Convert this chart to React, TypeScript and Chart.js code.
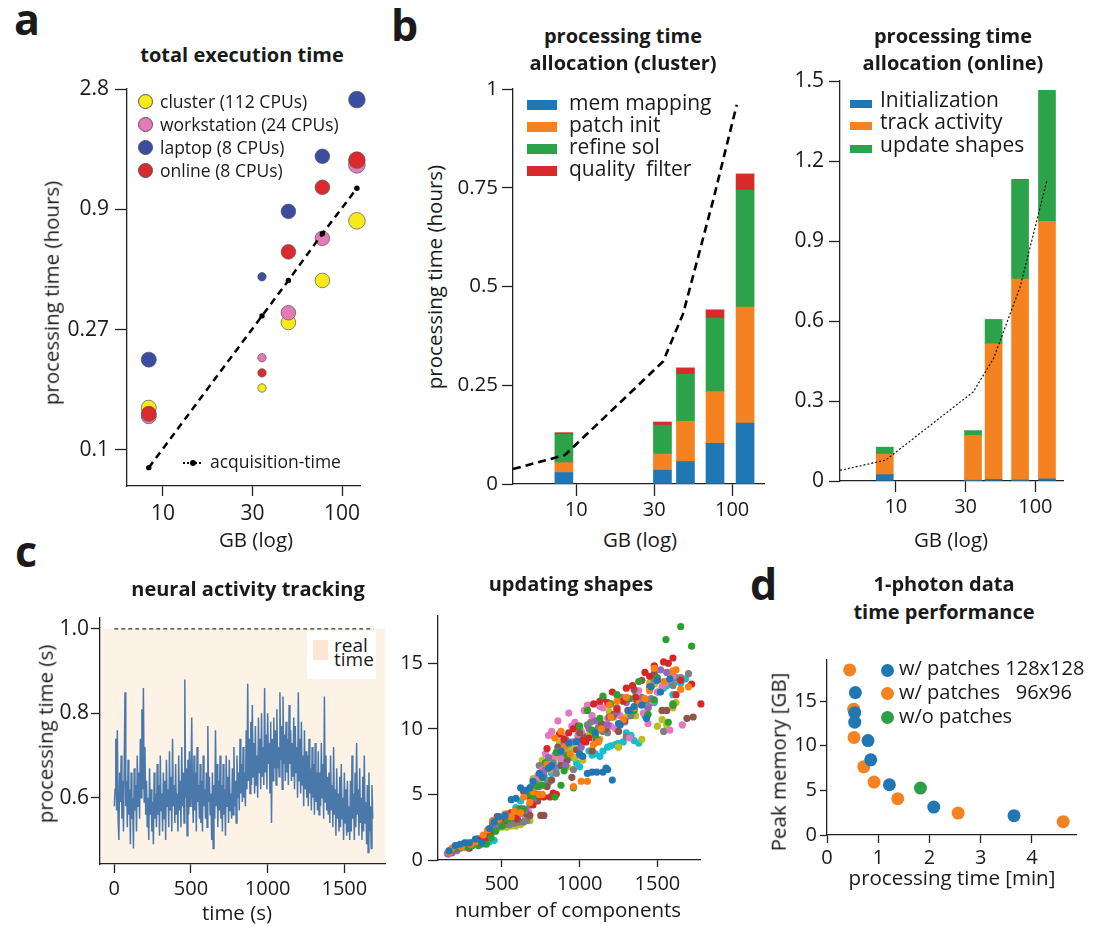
import React, { useEffect, useRef } from 'react';
import { Chart, registerables } from 'chart.js';

Chart.register(...registerables);

const FONT = '"Open Sans", "DejaVu Sans", sans-serif';
Chart.defaults.font.family = FONT;

// ---------------- Panel a: total execution time ----------------
const aGB = [8.4, 33.7, 46.6, 70.7, 108];
const aCluster = [0.147, 0.176, 0.32, 0.47, 0.81];
const aWorkstation = [0.136, 0.232, 0.35, 0.69, 1.35];
const aLaptop = [0.228, 0.486, 0.883, 1.46, 2.45];
const aOnline = [0.139, 0.202, 0.61, 1.1, 1.41];
const aAcquisition = [0.085, 0.34, 0.47, 0.72, 1.09];
const aXTickValues = [10, 30, 90];
const aXTickLabels = ['10', '30', '100'];
const aYTickValues = [0.1, 0.3, 0.9, 2.7];
const aYTickLabels = ['0.1', '0.27', '0.9', '2.8'];
const aLegend = ['cluster (112 CPUs)', 'workstation (24 CPUs)', 'laptop (8 CPUs)', 'online (8 CPUs)'];

// ---------------- Panel b: cluster allocation ----------------
const bGB = [8.4, 33.7, 46.6, 70.7, 108];
const bMemMapping = [0.029, 0.035, 0.057, 0.103, 0.154];
const bPatchInit = [0.025, 0.041, 0.102, 0.131, 0.294];
const bRefineSol = [0.072, 0.073, 0.119, 0.186, 0.296];
const bQualityFilter = [0.004, 0.008, 0.016, 0.021, 0.041];
const bClusterLineGB = [4.1, 8.5, 34, 45, 69, 96];
const bClusterLine = [0.038, 0.073, 0.31, 0.43, 0.72, 0.96];
const bClusterYTicks = [0, 0.25, 0.5, 0.75, 1];
const bClusterYLabels = ['0', '0.25', '0.5', '0.75', '1'];
const bLegend = ['mem mapping', 'patch init', 'refine sol', 'quality  filter'];

// ---------------- Panel b: online allocation ----------------
const oInitialization = [0.024, 0.003, 0.006, 0.004, 0.008];
const oTrackActivity = [0.077, 0.168, 0.508, 0.753, 0.966];
const oUpdateShapes = [0.026, 0.018, 0.092, 0.374, 0.491];
const oLineGB = [4.15, 8.5, 33.8, 46.6, 70.7, 108];
const oLine = [0.04, 0.078, 0.334, 0.46, 0.727, 1.128];
const oYTicks = [0, 0.3, 0.6, 0.9, 1.2, 1.5];
const oYLabels = ['0', '0.3', '0.6', '0.9', '1.2', '1.5'];
const oLegend = ['Initialization', 'track activity', 'update shapes'];
const gbXTicks = [10, 30, 90];
const gbXLabels = ['10', '30', '100'];

// ---------------- Panel c: neural activity tracking (one value every 5 s) ----------------
const neuralStepSeconds = 5;
const neuralTime = [
  0.58, 0.62, 0.74, 0.57, 0.76, 0.55, 0.50, 0.66, 0.59, 0.70, 0.55, 0.64, 0.52, 0.68,
  0.85, 0.58, 0.64, 0.53, 0.69, 0.56, 0.62, 0.49, 0.66, 0.55, 0.60, 0.48, 0.67, 0.57,
  0.63, 0.52, 0.70, 0.58, 0.66, 0.55, 0.74, 0.60, 0.81, 0.62, 0.86, 0.59, 0.72, 0.56,
  0.64, 0.53, 0.60, 0.50, 0.67, 0.56, 0.62, 0.52, 0.59, 0.49, 0.66, 0.55, 0.61, 0.53,
  0.68, 0.56, 0.63, 0.51, 0.70, 0.57, 0.61, 0.52, 0.66, 0.55, 0.64, 0.50, 0.69, 0.58,
  0.62, 0.53, 0.71, 0.57, 0.65, 0.52, 0.74, 0.58, 0.63, 0.54, 0.68, 0.56, 0.61, 0.52,
  0.70, 0.57, 0.64, 0.53, 0.72, 0.58, 0.66, 0.54, 0.88, 0.60, 0.67, 0.51, 0.69, 0.56,
  0.71, 0.58, 0.64, 0.79, 0.60, 0.54, 0.70, 0.57, 0.66, 0.52, 0.72, 0.59, 0.63, 0.55,
  0.68, 0.54, 0.64, 0.52, 0.70, 0.58, 0.62, 0.55, 0.66, 0.53, 0.77, 0.59, 0.65, 0.56,
  0.61, 0.50, 0.66, 0.48, 0.63, 0.55, 0.76, 0.58, 0.68, 0.53, 0.64, 0.57, 0.70, 0.55,
  0.63, 0.52, 0.68, 0.56, 0.62, 0.51, 0.70, 0.58, 0.65, 0.54, 0.69, 0.57, 0.61, 0.55,
  0.67, 0.56, 0.72, 0.58, 0.64, 0.54, 0.70, 0.60, 0.66, 0.57, 0.74, 0.61, 0.68, 0.59,
  0.72, 0.60, 0.66, 0.58, 0.76, 0.62, 0.87, 0.64, 0.74, 0.61, 0.78, 0.63, 0.82, 0.65,
  0.73, 0.61, 0.77, 0.63, 0.70, 0.60, 0.79, 0.66, 0.74, 0.62, 0.80, 0.65, 0.72, 0.63,
  0.86, 0.66, 0.75, 0.62, 0.80, 0.68, 0.73, 0.61, 0.78, 0.54, 0.74, 0.64, 0.79, 0.67,
  0.76, 0.63, 0.81, 0.67, 0.72, 0.65, 0.85, 0.69, 0.77, 0.62, 0.84, 0.68, 0.75, 0.64,
  0.78, 0.66, 0.74, 0.63, 0.82, 0.68, 0.76, 0.64, 0.73, 0.65, 0.79, 0.62, 0.77, 0.66,
  0.72, 0.60, 0.85, 0.64, 0.74, 0.61, 0.78, 0.63, 0.70, 0.58, 0.76, 0.62, 0.71, 0.60,
  0.70, 0.58, 0.74, 0.61, 0.67, 0.57, 0.72, 0.60, 0.68, 0.56, 0.73, 0.59, 0.66, 0.57,
  0.71, 0.56, 0.66, 0.58, 0.73, 0.60, 0.68, 0.55, 0.84, 0.59, 0.70, 0.57, 0.65, 0.56,
  0.66, 0.54, 0.70, 0.57, 0.63, 0.53, 0.72, 0.56, 0.62, 0.51, 0.67, 0.55, 0.61, 0.52,
  0.65, 0.53, 0.68, 0.55, 0.60, 0.50, 0.66, 0.54, 0.62, 0.51, 0.64, 0.52, 0.58, 0.50,
  0.64, 0.52, 0.70, 0.55, 0.61, 0.50, 0.66, 0.53, 0.73, 0.56, 0.62, 0.51, 0.67, 0.54,
  0.60, 0.50, 0.65, 0.52, 0.70, 0.54, 0.59, 0.49, 0.63, 0.47, 0.66, 0.52, 0.58, 0.48,
  0.63, 0.55,
];
const realTimeBand = [0, 1.0];
const realTimeLineX = [0, 1690];
const nXTicks = [0, 500, 1000, 1500];
const nXLabels = ['0', '500', '1000', '1500'];
const nYTicks = [0.6, 0.8, 1.0];
const nYLabels = ['0.6', '0.8', '1.0'];

// ---------------- Panel c: updating shapes ----------------
const sBlueX = [200, 260, 330, 420, 480, 560, 620, 650, 700, 760, 820, 880, 930, 980, 1020, 1050, 1080, 1110, 1150, 1170, 1180, 1210, 1260, 1320, 1400, 1460, 1520, 1580,
  160, 230, 290, 370, 450, 520, 590, 680, 740, 800, 1000, 1100, 1250, 1350, 1430, 1500];
const sBlueY = [1.1, 1.3, 1.6, 2.4, 3.3, 4.6, 5.5, 5.3, 6.0, 6.3, 7.2, 8.3, 8.9, 9.0, 7.9, 6.6, 6.7, 6.7, 6.7, 7.0, 6.9, 6.1, 10.3, 11.4, 11.8, 13.2, 12.8, 13.8,
  0.7, 1.2, 1.3, 1.3, 2.9, 3.4, 4.7, 5.5, 6.6, 7.0, 8.1, 9.7, 10.4, 11.7, 10.8, 13.7];
const sOrangeX = [180, 240, 300, 380, 440, 520, 580, 640, 700, 740, 790, 840, 900, 960, 1010, 1050, 1090, 1140, 1190, 1240, 1300, 1350, 1420, 1480, 1540, 1600, 1650, 1700,
  160, 210, 270, 330, 410, 480, 560, 620, 680, 760, 880, 940, 1120, 1200, 1280, 1380, 1450, 1620];
const sOrangeY = [0.9, 1.0, 1.2, 1.9, 3.0, 3.5, 3.7, 4.8, 5.2, 5.0, 7.3, 9.3, 8.6, 5.6, 6.0, 6.0, 8.8, 10.0, 11.8, 12.1, 12.4, 11.6, 12.3, 14.6, 13.6, 14.4, 13.0, 13.2,
  0.6, 1.1, 1.3, 1.4, 2.3, 3.1, 3.3, 3.6, 4.4, 5.0, 9.8, 8.1, 9.0, 10.9, 10.7, 11.9, 12.9, 14.5];
const sGreenX = [210, 280, 350, 400, 460, 540, 600, 670, 720, 780, 840, 880, 920, 960, 1000, 1050, 1100, 1150, 1200, 1260, 1320, 1380, 1440, 1500, 1555, 1570, 1650, 1720,
  170, 240, 310, 370, 430, 500, 560, 640, 700, 760, 850, 900, 1080, 1130, 1240, 1350, 1480, 1600];
const sGreenY = [0.9, 1.0, 1.1, 1.2, 2.2, 3.1, 3.8, 5.0, 5.6, 7.4, 4.8, 5.7, 8.0, 5.5, 10.2, 11.4, 9.5, 12.5, 11.9, 10.4, 12.3, 13.6, 11.1, 13.9, 16.8, 10.5, 17.8, 16.3,
  0.7, 1.1, 1.1, 1.2, 1.7, 2.6, 3.2, 3.9, 4.9, 5.7, 8.2, 6.8, 9.9, 10.8, 12.6, 11.4, 12.2, 11.9];
const sRedX = [170, 230, 290, 360, 430, 470, 530, 590, 640, 700, 750, 790, 830, 870, 930, 990, 1040, 1090, 1130, 1180, 1240, 1300, 1360, 1420, 1480, 1540, 1600, 1650, 1720, 1780,
  200, 260, 320, 400, 500, 560, 620, 680, 730, 770, 810, 850, 900, 960, 1020, 1060, 1150, 1210, 1280, 1340, 1450, 1570, 1620];
const sRedY = [0.7, 1.0, 0.9, 1.5, 2.0, 3.3, 3.5, 3.2, 5.2, 4.2, 4.9, 8.5, 5.1, 9.6, 9.7, 10.2, 9.0, 11.9, 12.1, 12.0, 11.5, 13.1, 12.4, 14.3, 14.8, 15.1, 15.4, 13.7, 13.4, 11.9,
  0.9, 1.1, 1.3, 1.7, 3.2, 3.6, 3.9, 4.8, 5.0, 4.8, 4.8, 5.0, 9.2, 10.0, 9.1, 9.3, 12.3, 12.8, 12.1, 13.3, 14.0, 15.0, 12.6];
const sPurpleX = [150, 170, 200, 230, 270, 320, 380, 440, 500, 540, 600, 650, 700, 740, 800, 860, 910, 960, 1010, 1060, 1120, 1180, 1240, 1300, 1380, 1440, 1520, 1560,
  155, 160, 180, 190, 210, 250, 290, 350, 410, 470, 560, 620, 680, 780, 830, 900, 1000, 1100, 1200, 1350, 1460, 1600];
const sPurpleY = [0.5, 0.6, 0.8, 0.9, 1.0, 1.4, 1.7, 2.4, 3.1, 3.4, 3.5, 3.8, 4.5, 5.6, 7.8, 8.3, 7.2, 9.0, 8.6, 10.0, 9.1, 10.3, 11.3, 12.0, 12.2, 11.6, 14.5, 14.3,
  0.45, 0.7, 0.55, 0.9, 0.7, 1.0, 1.2, 1.6, 2.1, 2.6, 3.6, 3.7, 4.2, 6.9, 7.1, 8.9, 8.0, 10.6, 10.9, 11.5, 12.3, 14.4];
const sBrownX = [190, 260, 340, 410, 460, 520, 570, 620, 660, 700, 750, 770, 820, 860, 920, 980, 1030, 1080, 1140, 1190, 1250, 1310, 1370, 1400, 1450, 1530, 1560, 1600, 1690, 1730,
  220, 300, 380, 440, 490, 550, 600, 640, 680, 730, 790, 880, 950, 1000, 1110, 1170, 1220, 1290, 1350, 1480];
const sBrownY = [0.8, 1.1, 1.4, 2.3, 2.6, 3.0, 3.3, 3.6, 3.5, 4.4, 3.4, 3.4, 6.1, 8.6, 7.6, 8.4, 9.3, 8.3, 10.4, 10.9, 9.8, 11.4, 12.1, 13.7, 13.2, 11.4, 11.4, 11.8, 10.8, 10.9,
  1.0, 1.2, 1.8, 2.8, 2.9, 3.2, 3.1, 3.6, 3.4, 4.5, 5.6, 7.2, 6.3, 9.7, 9.2, 10.0, 11.1, 10.6, 13.0, 14.2];
const sPinkX = [160, 220, 300, 370, 450, 510, 560, 640, 700, 760, 800, 840, 880, 930, 970, 1010, 1050, 1100, 1150, 1200, 1260, 1320, 1380, 1440, 1500, 1550, 1580, 1660,
  190, 250, 340, 410, 480, 540, 600, 670, 730, 780, 820, 860, 900, 950, 990, 1030, 1080, 1130, 1180, 1230, 1290, 1350, 1410, 1470, 1530, 1600];
const sPinkY = [0.6, 0.9, 1.1, 1.6, 2.8, 3.1, 3.3, 3.5, 5.7, 6.9, 9.5, 8.0, 7.7, 11.2, 10.5, 9.8, 11.8, 9.0, 11.6, 10.2, 11.0, 9.3, 12.9, 10.4, 12.8, 13.5, 9.9, 10.3,
  0.8, 1.0, 1.4, 2.1, 2.9, 3.2, 3.4, 3.7, 6.4, 8.1, 9.8, 10.6, 9.4, 10.2, 9.6, 11.4, 11.0, 11.7, 10.8, 10.0, 10.5, 12.3, 11.2, 12.1, 13.2, 14.0];
const sGrayX = [240, 310, 390, 450, 520, 580, 640, 690, 740, 800, 850, 910, 960, 1020, 1070, 1120, 1180, 1240, 1300, 1360, 1420, 1480, 1540, 1600, 1650, 1700,
  200, 270, 350, 420, 480, 550, 610, 660, 720, 770, 830, 880, 930, 990, 1050, 1100, 1150, 1210, 1270, 1330, 1400, 1460, 1560, 1620];
const sGrayY = [1.1, 1.2, 1.8, 2.5, 2.7, 2.8, 2.9, 4.3, 7.2, 5.9, 6.6, 9.2, 6.9, 9.5, 10.5, 10.1, 9.7, 11.6, 9.4, 12.8, 12.1, 13.7, 9.8, 13.3, 13.9, 14.2,
  0.9, 1.2, 1.6, 2.2, 2.6, 2.7, 2.9, 3.0, 5.8, 6.4, 7.4, 8.0, 9.0, 9.4, 10.3, 9.0, 9.8, 10.9, 12.4, 11.0, 12.4, 12.0, 13.6, 13.9];
const sOliveX = [180, 250, 330, 400, 470, 530, 590, 650, 700, 760, 810, 870, 920, 970, 1020, 1080, 1130, 1190, 1250, 1300, 1360, 1400, 1450, 1500, 1560, 1620,
  210, 280, 360, 430, 500, 560, 620, 680, 740, 790, 840, 900, 950, 1000, 1060, 1110, 1160, 1220, 1280, 1330, 1430, 1480, 1530, 1600];
const sOliveY = [0.8, 1.0, 1.5, 1.8, 2.4, 2.5, 2.6, 3.1, 6.2, 7.6, 6.9, 9.0, 7.1, 7.8, 7.6, 8.4, 9.2, 11.3, 8.6, 10.9, 11.0, 9.2, 13.5, 10.2, 10.3, 12.0,
  0.9, 1.1, 1.4, 2.1, 2.5, 2.6, 2.7, 3.0, 6.0, 7.2, 7.8, 8.3, 8.5, 8.1, 9.5, 9.8, 10.3, 10.9, 10.5, 11.2, 10.8, 13.4, 10.7, 11.6];
const sCyanX = [200, 270, 340, 420, 480, 560, 620, 690, 740, 790, 850, 900, 960, 1000, 1060, 1100, 1150, 1200, 1250, 1300, 1350, 1380, 1440, 1500, 1560, 1620, 1680,
  170, 240, 300, 380, 450, 520, 590, 650, 720, 770, 820, 880, 930, 980, 1030, 1080, 1130, 1180, 1230, 1280, 1330, 1420, 1480, 1540, 1600, 1650];
const sCyanY = [0.9, 1.2, 1.6, 1.4, 2.5, 3.1, 4.5, 5.6, 6.4, 6.1, 7.0, 7.3, 7.8, 7.1, 8.3, 8.1, 8.3, 8.7, 8.9, 9.7, 9.1, 8.9, 11.6, 12.8, 13.3, 13.6, 13.8,
  0.7, 1.0, 1.3, 1.7, 1.5, 2.9, 4.0, 5.2, 5.9, 6.5, 6.6, 7.4, 8.6, 7.4, 9.2, 8.0, 7.9, 8.6, 8.8, 9.0, 9.5, 11.0, 12.0, 13.1, 12.6, 13.5];
const sXTicks = [500, 1000, 1500];
const sXLabels = ['500', '1000', '1500'];
const sYTicks = [0, 5, 10, 15];
const sYLabels = ['0', '5', '10', '15'];

// ---------------- Panel d: 1-photon data ----------------
const dPatch128Time = [0.554, 0.541, 0.541, 0.80, 0.853, 1.218, 2.084, 3.65];
const dPatch128Mem = [15.95, 13.7, 12.64, 10.58, 8.42, 5.63, 3.13, 2.16];
const dPatch96Time = [0.443, 0.521, 0.527, 0.717, 0.918, 1.381, 2.559, 4.61];
const dPatch96Mem = [18.49, 14.09, 10.92, 7.64, 5.93, 4.06, 2.46, 1.49];
const dNoPatchTime = [1.824];
const dNoPatchMem = [5.26];
const dXTicks = [0, 1, 2, 3, 4];
const dXLabels = ['0', '1', '2', '3', '4'];
const dYTicks = [0, 5, 10, 15];
const dYLabels = ['0', '5', '10', '15'];
const dLegend = ['w/ patches 128x128', 'w/ patches   96x96', 'w/o patches'];

// ---------------- styling ----------------
const A_COLORS = ['#f7ea1b', '#e47bb7', '#3a4d9f', '#db2a2d'];
const BAR_COLORS = ['#1f77b4', '#f48221', '#2ca24a', '#d8292b'];
const TAB10 = ['#1f77b4', '#ff7f0e', '#2ca02c', '#d62728', '#9467bd', '#8c564b', '#e377c2', '#7f7f7f', '#bcbd22', '#17becf'];
const A_RADIUS = [7.5, 4.2, 7.3, 7.3, 8.3];
const INK = '#1a1a1a';

function pts(xs: number[], ys: number[]) {
  return xs.map((x, i) => ({ x, y: ys[i] }));
}

function mkScale(axis: 'x' | 'y', type: string, min: number, max: number, tickVals: number[], tickLabels: string[],
  size: number, tickLength: number, padding: number, fontSize: number, extra: any = {}) {
  return {
    type, min, max,
    position: axis === 'x' ? 'bottom' : 'left',
    offset: false,
    afterBuildTicks: (s: any) => { s.ticks = tickVals.map((v) => ({ value: v })); },
    afterFit: (s: any) => { if (axis === 'y') s.width = size; else s.height = size; },
    ticks: {
      autoSkip: false, maxRotation: 0, minRotation: 0, padding, color: INK,
      font: { family: FONT, size: fontSize },
      callback: (_v: any, i: number) => tickLabels[i],
    },
    grid: { display: true, offset: false, drawOnChartArea: false, drawTicks: true, tickLength, tickColor: '#222', tickWidth: 1.3, color: '#222' },
    border: { display: true, color: '#222', width: 1.3 },
    ...extra,
  };
}

function baseOptions(scales: any, padTop = 20, padRight = 30) {
  return {
    responsive: false,
    animation: false,
    events: [],
    layout: { padding: { left: 0, top: padTop, right: padRight, bottom: 0 } },
    plugins: { legend: { display: false }, tooltip: { enabled: false }, title: { display: false } },
    scales,
  };
}

function ChartCanvas({ left, top, width, height, make }: { left: number; top: number; width: number; height: number; make: () => any }) {
  const ref = useRef<HTMLCanvasElement>(null);
  useEffect(() => {
    const chart = new Chart(ref.current as HTMLCanvasElement, make());
    return () => chart.destroy();
  }, []);
  return <canvas ref={ref} width={width} height={height} style={{ position: 'absolute', left, top, width, height }} />;
}

function Txt({ x, y, size, bold = false, align = 'left', children }: any) {
  const style: any = {
    position: 'absolute', top: y - 0.888 * size, fontSize: size, lineHeight: `${size}px`,
    fontFamily: FONT, fontWeight: bold ? 700 : 400, whiteSpace: 'pre', color: INK,
  };
  if (align === 'center') { style.left = x; style.transform = 'translateX(-50%)'; }
  else style.left = x;
  return <div style={style}>{children}</div>;
}

function VTxt({ cx, cy, size, children }: any) {
  return (
    <div style={{
      position: 'absolute', left: cx, top: cy, fontSize: size, lineHeight: `${size}px`, fontFamily: FONT,
      whiteSpace: 'pre', color: INK, transform: 'translate(-50%, -50%) rotate(-90deg)',
    }}>{children}</div>
  );
}

function Dot({ cx, cy, r, color, border }: any) {
  return <div style={{
    position: 'absolute', left: cx - r, top: cy - r, width: 2 * r, height: 2 * r, borderRadius: '50%',
    background: color, boxSizing: 'border-box', border: border ? `0.8px solid ${border}` : 'none',
  }} />;
}

function Rect({ x, y, w, h, color }: any) {
  return <div style={{ position: 'absolute', left: x, top: y, width: w, height: h, background: color }} />;
}

// ---------------- chart builders ----------------
function makePanelA() {
  const order = [4, 3, 2, 1];
  const series = [aCluster, aWorkstation, aLaptop, aOnline];
  const datasets: any[] = series.map((s, k) => ({
    label: aLegend[k], data: pts(aGB, s), backgroundColor: A_COLORS[k], borderColor: '#555', borderWidth: 0.7,
    pointRadius: A_RADIUS, order: order[k], clip: false,
  }));
  datasets.push({
    label: 'acquisition-time', type: 'line', data: pts(aGB, aAcquisition), borderColor: '#000', borderWidth: 2.5,
    borderDash: [7, 5], pointRadius: 2.7, pointBackgroundColor: '#000', pointBorderWidth: 0, order: 0, clip: false,
  });
  return {
    type: 'scatter',
    data: { datasets },
    options: baseOptions({
      x: mkScale('x', 'logarithmic', 6.43, 112.2, aXTickValues, aXTickLabels, 40, 10, 5, 21),
      y: mkScale('y', 'logarithmic', 0.0719, 2.7, aYTickValues, aYTickLabels, 67, 12, 6, 21),
    }),
  };
}

function makeCluster() {
  const parts = [bMemMapping, bPatchInit, bRefineSol, bQualityFilter];
  const datasets: any[] = parts.map((p, k) => ({
    label: bLegend[k], data: pts(bGB, p), backgroundColor: BAR_COLORS[k], borderWidth: 0,
    barThickness: 18, stack: 'bars', order: 1,
  }));
  datasets.push({
    type: 'line', label: 'acquisition', data: pts(bClusterLineGB, bClusterLine), borderColor: '#000', borderWidth: 2.6,
    borderDash: [8, 5], pointRadius: 0, stack: 'line', order: 0, clip: false,
  });
  return {
    type: 'bar',
    data: { datasets },
    options: baseOptions({
      x: mkScale('x', 'logarithmic', 4.1, 141, gbXTicks, gbXLabels, 40, 12, 2, 20, { stacked: true }),
      y: mkScale('y', 'linear', 0, 1, bClusterYTicks, bClusterYLabels, 60, 11, 4, 20.5, { stacked: true }),
    }),
  };
}

function makeOnline() {
  const parts = [oInitialization, oTrackActivity, oUpdateShapes];
  const datasets: any[] = parts.map((p, k) => ({
    label: oLegend[k], data: pts(bGB, p), backgroundColor: BAR_COLORS[k], borderWidth: 0,
    barThickness: 17, stack: 'bars', order: 1,
  }));
  datasets.push({
    type: 'line', label: 'acquisition', data: pts(oLineGB, oLine), borderColor: '#111', borderWidth: 1.2,
    borderDash: [2, 2], pointRadius: 0, stack: 'line', order: 0, clip: false,
  });
  return {
    type: 'bar',
    data: { datasets },
    options: baseOptions({
      x: mkScale('x', 'logarithmic', 4.15, 139, gbXTicks, gbXLabels, 40, 11, 3, 20, { stacked: true }),
      y: mkScale('y', 'linear', 0, 1.5, oYTicks, oYLabels, 55, 11, 5, 21, { stacked: true }),
    }),
  };
}

function makeNeural() {
  const trace = neuralTime.map((v, i) => ({ x: i * neuralStepSeconds, y: v }));
  return {
    type: 'line',
    data: {
      datasets: [
        { label: 'processing time', data: trace, borderColor: '#4b78aa', borderWidth: 1.5, pointRadius: 0, tension: 0, order: 1 },
        { label: 'real time', data: realTimeLineX.map((x) => ({ x, y: realTimeBand[1] })), borderColor: '#333', borderWidth: 1.2, borderDash: [4, 3], pointRadius: 0, order: 0, clip: false },
      ],
    },
    options: baseOptions({
      x: mkScale('x', 'linear', -93, 1765, nXTicks, nXLabels, 40, 9, 4, 20),
      y: mkScale('y', 'linear', 0.443, 1.026, nYTicks, nYLabels, 60, 9, 2, 21),
    }, 20, 20),
    plugins: [{
      id: 'realTimeBand',
      beforeDraw(chart: any) {
        const { ctx, chartArea, scales } = chart;
        const yTop = scales.y.getPixelForValue(realTimeBand[1]);
        const yBot = Math.min(scales.y.getPixelForValue(realTimeBand[0]), chartArea.bottom);
        ctx.save();
        ctx.fillStyle = '#fdf2e6';
        ctx.fillRect(chartArea.left, yTop, chartArea.right - chartArea.left, yBot - yTop);
        ctx.restore();
      },
    }],
  };
}

function makeShapes() {
  const xs = [sBlueX, sOrangeX, sGreenX, sRedX, sPurpleX, sBrownX, sPinkX, sGrayX, sOliveX, sCyanX];
  const ys = [sBlueY, sOrangeY, sGreenY, sRedY, sPurpleY, sBrownY, sPinkY, sGrayY, sOliveY, sCyanY];
  return {
    type: 'scatter',
    data: {
      datasets: xs.map((x, k) => ({
        label: `set ${k + 1}`, data: pts(x, ys[k]), backgroundColor: TAB10[k], borderWidth: 0, pointRadius: 3.6, clip: false,
      })),
    },
    options: baseOptions({
      x: mkScale('x', 'linear', 89, 1774, sXTicks, sXLabels, 40, 7, 5, 20),
      y: mkScale('y', 'linear', 0, 18.6, sYTicks, sYLabels, 50, 10, 5, 20),
    }, 20, 20),
  };
}

function makePanelD() {
  return {
    type: 'scatter',
    data: {
      datasets: [
        { label: dLegend[0], data: pts(dPatch128Time, dPatch128Mem), backgroundColor: '#1f77b4', borderWidth: 0, pointRadius: 6.5, clip: false },
        { label: dLegend[1], data: pts(dPatch96Time, dPatch96Mem), backgroundColor: '#f58220', borderWidth: 0, pointRadius: 6.5, clip: false },
        { label: dLegend[2], data: pts(dNoPatchTime, dNoPatchMem), backgroundColor: '#2ca048', borderWidth: 0, pointRadius: 6.5, clip: false },
      ],
    },
    options: baseOptions({
      x: mkScale('x', 'linear', 0, 4.86, dXTicks, dXLabels, 35, 8, 3, 20),
      y: mkScale('y', 'linear', 0, 19.6, dYTicks, dYLabels, 45, 7, 3, 20),
    }, 20, 25),
  };
}

export default function App() {
  return (
    <div style={{ position: 'absolute', left: 0, top: 0, width: 1110, height: 926, background: '#fff', overflow: 'hidden', fontFamily: FONT }}>
      {/* Panel a */}
      <ChartCanvas left={60} top={69} width={330} height={457} make={makePanelA} />
      <Txt x={14} y={35} size={43} bold>a</Txt>
      <Txt x={242} y={63} size={20} bold align="center">total execution time</Txt>
      <VTxt cx={51} cy={293} size={20.5}>processing time (hours)</VTxt>
      <Txt x={256} y={547} size={20.5} align="center">GB (log)</Txt>
      {aLegend.map((l, k) => {
        const cy = [101.3, 124.3, 147.7, 170.7][k];
        return (
          <React.Fragment key={l}>
            <Dot cx={145.5} cy={cy} r={7.5} color={A_COLORS[k]} border="#555" />
            <Txt x={160} y={cy + 7} size={17.5}>{l}</Txt>
          </React.Fragment>
        );
      })}
      <svg style={{ position: 'absolute', left: 180, top: 455, width: 25, height: 16 }} width={25} height={16}>
        <line x1={3} y1={8} x2={21} y2={8} stroke="#000" strokeWidth={2} strokeDasharray="2,2" />
        <circle cx={13} cy={8} r={3} fill="#000" />
      </svg>
      <Txt x={210} y={469} size={17.5}>acquisition-time</Txt>

      {/* Panel b: cluster */}
      <ChartCanvas left={453} top={69} width={341} height={455} make={makeCluster} />
      <Txt x={391} y={41} size={43} bold>b</Txt>
      <Txt x={623} y={44} size={20} bold align="center">processing time</Txt>
      <Txt x={623} y={71} size={20} bold align="center">allocation (cluster)</Txt>
      <VTxt cx={434} cy={277} size={20.5}>processing time (hours)</VTxt>
      <Txt x={640} y={547} size={20.5} align="center">GB (log)</Txt>
      {bLegend.map((l, k) => {
        const cy = [105, 126.7, 148.7, 170.8][k];
        return (
          <React.Fragment key={l}>
            <Rect x={527} y={cy - 5} w={30} h={10} color={BAR_COLORS[k]} />
            <Txt x={569} y={cy + 5.5} size={21}>{l}</Txt>
          </React.Fragment>
        );
      })}

      {/* Panel b: online */}
      <ChartCanvas left={785} top={61} width={308} height={460} make={makeOnline} />
      <Txt x={953} y={44} size={20} bold align="center">processing time</Txt>
      <Txt x={953} y={71} size={20} bold align="center">allocation (online)</Txt>
      <Txt x={951} y={547} size={20.5} align="center">GB (log)</Txt>
      {oLegend.map((l, k) => {
        const cy = [104, 125.5, 149][k];
        return (
          <React.Fragment key={l}>
            <Rect x={850} y={cy - 4} w={22} h={8} color={BAR_COLORS[k]} />
            <Txt x={880} y={cy + 4} size={21}>{l}</Txt>
          </React.Fragment>
        );
      })}

      {/* Panel c: neural activity */}
      <ChartCanvas left={40} top={598} width={365} height={306} make={makeNeural} />
      <Txt x={15} y={567} size={43} bold>c</Txt>
      <Txt x={248} y={597} size={20} bold align="center">neural activity tracking</Txt>
      <VTxt cx={45} cy={734} size={20.5}>processing time (s)</VTxt>
      <Txt x={237} y={920} size={20.5} align="center">time (s)</Txt>
      <Rect x={307} y={631} w={69} h={48} color="#ffffff" />
      <Rect x={313} y={640} w={15} h={20} color="#fce8d2" />
      <Txt x={334} y={653} size={19}>real</Txt>
      <Txt x={334} y={667} size={19}>time</Txt>

      {/* Panel c: updating shapes */}
      <ChartCanvas left={388} top={596} width={332} height={304} make={makeShapes} />
      <Txt x={571} y={592} size={20} bold align="center">updating shapes</Txt>
      <Txt x={568} y={917} size={20.5} align="center">number of components</Txt>

      {/* Panel d */}
      <ChartCanvas left={782} top={640} width={319} height={230} make={makePanelD} />
      <Txt x={750} y={600} size={43} bold>d</Txt>
      <Txt x={944} y={592} size={20} bold align="center">1-photon data</Txt>
      <Txt x={944} y={620} size={20} bold align="center">time performance</Txt>
      <VTxt cx={778} cy={762} size={20.5}>Peak memory [GB]</VTxt>
      <Txt x={952} y={885} size={20.5} align="center">processing time [min]</Txt>
      {dLegend.map((l, k) => {
        const cy = [670, 693.3, 717.3][k];
        return (
          <React.Fragment key={l}>
            <Dot cx={887.7} cy={cy} r={6.5} color={['#1f77b4', '#f58220', '#2ca048'][k]} />
            <Txt x={899} y={cy + 6} size={20}>{l}</Txt>
          </React.Fragment>
        );
      })}
    </div>
  );
}
